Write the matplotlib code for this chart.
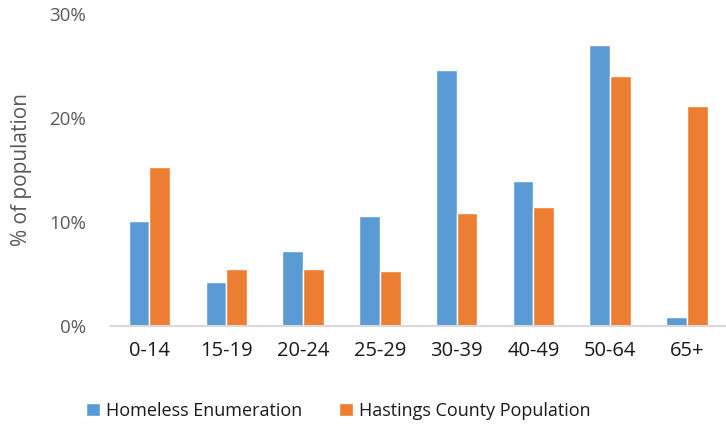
import numpy as np
import matplotlib.pyplot as plt

age_groups = ['0-14', '15-19', '20-24', '25-29', '30-39', '40-49', '50-64', '65+']
homeless = [10.1, 4.2, 7.2, 10.6, 24.6, 13.9, 27.0, 0.9]
hastings = [15.3, 5.5, 5.5, 5.3, 10.9, 11.4, 24.0, 21.2]

plt.rcParams['font.family'] = ['Open Sans', 'DejaVu Sans']

fig = plt.figure(figsize=(7.26, 4.26), dpi=100)
ax = fig.add_axes([0.153, 0.235, 0.846, 0.732])

x = np.arange(len(age_groups))
w = 0.27
ax.bar(x - w / 2, homeless, w, color='#5B9BD5', edgecolor='white', linewidth=1,
       label='Homeless Enumeration')
ax.bar(x + w / 2, hastings, w, color='#ED7D31', edgecolor='white', linewidth=1,
       label='Hastings County Population')

ax.set_xlim(-0.5, len(age_groups) - 0.5)
ax.set_ylim(0, 30)
ax.set_yticks([0, 10, 20, 30])
ax.set_yticklabels(['0%', '10%', '20%', '30%'])
ax.set_xticks(x)
ax.set_xticklabels(age_groups)

for s in ['top', 'right', 'left']:
    ax.spines[s].set_visible(False)
ax.spines['bottom'].set_color('#D9D9D9')
ax.spines['bottom'].set_linewidth(1.5)
ax.tick_params(axis='both', length=0)
ax.tick_params(axis='y', labelsize=13.5, labelcolor='#595959', pad=18)
ax.tick_params(axis='x', labelsize=14.5, labelcolor='#1a1a1a', pad=11)

ax.set_ylabel('% of population', fontsize=15, color='#595959')
ax.yaxis.set_label_coords(-0.128, 0.5)

fig.legend(loc='center', bbox_to_anchor=(0.466, 0.036), ncol=2, frameon=False,
           fontsize=13, handlelength=0.75, handleheight=0.75, columnspacing=2.05,
           handletextpad=0.35, labelcolor='#1a1a1a')

fig.savefig('out.png', dpi=100)
